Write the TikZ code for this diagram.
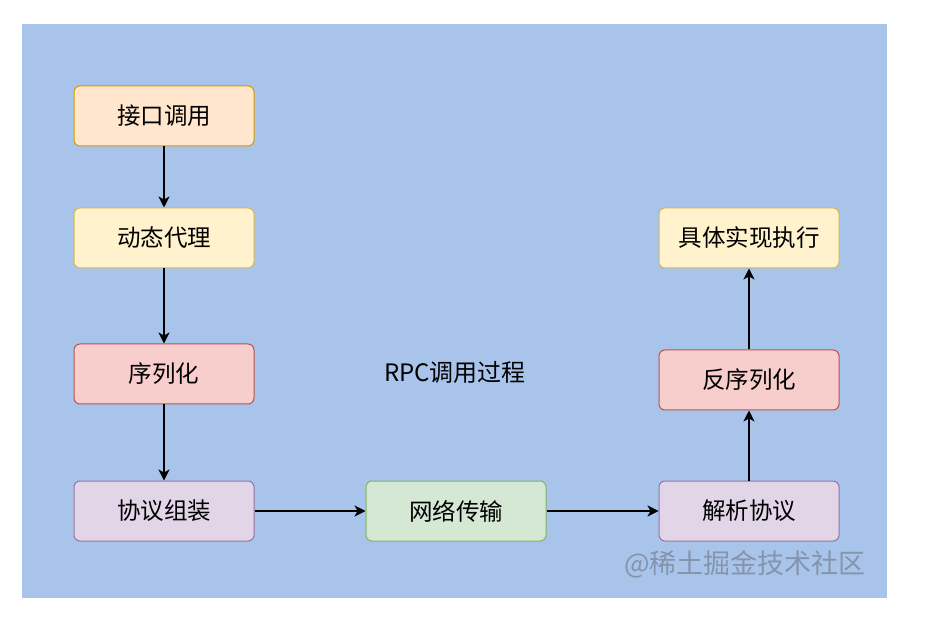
\documentclass[tikz,border=0pt]{standalone}
\usepackage{fontspec}
\setmainfont{Noto Sans CJK SC}
\usepackage{tikz}
\usetikzlibrary{arrows.meta,calc,positioning}
\definecolor{bgblue}{HTML}{A9C4EB}
\definecolor{orangefill}{HTML}{FFE6CC}
\definecolor{orangeline}{HTML}{D79B00}
\definecolor{yellowfill}{HTML}{FFF2CC}
\definecolor{yellowline}{HTML}{D6B656}
\definecolor{redfill}{HTML}{F8CECC}
\definecolor{redline}{HTML}{B85450}
\definecolor{purplefill}{HTML}{E1D5E7}
\definecolor{purpleline}{HTML}{9673A6}
\definecolor{greenfill}{HTML}{D5E8D4}
\definecolor{greenline}{HTML}{82B366}
\definecolor{markgray}{HTML}{8594AB}

\begin{document}
\begin{tikzpicture}[x=1pt,y=-1pt,
    stepbox/.style={draw, rounded corners=6pt, line width=1pt,
      minimum width=180pt, minimum height=60pt, inner sep=0pt,
      font=\fontsize{23.5}{23.5}\selectfont},
    flow/.style={-{Stealth[length=11pt,width=11pt,inset=3pt]}, line width=1.2pt, black}]
            % Canvas and background
            \useasboundingbox (0,0) rectangle (946,628);
            \fill[white] (0,0) rectangle (946,628);
            \fill[bgblue] (22,24) rectangle (887,598);
            % Client side
            \node[stepbox, fill=orangefill, draw=orangeline] (call) at (164,116) {接口调用};
            \node[stepbox, fill=yellowfill, draw=yellowline] (proxy) at (164,238) {动态代理};
            \node[stepbox, fill=redfill, draw=redline] (ser) at (164,374) {序列化};
            \node[stepbox, fill=purplefill, draw=purpleline] (pack) at (164,511) {协议组装};
            % Network
            \node[stepbox, fill=greenfill, draw=greenline] (net) at (456,511) {网络传输};
            % Server side
            \node[stepbox, fill=purplefill, draw=purpleline] (parse) at (749,511) {解析协议};
            \node[stepbox, fill=redfill, draw=redline] (deser) at (749,380) {反序列化};
            \node[stepbox, fill=yellowfill, draw=yellowline] (exec) at (749,238) {具体实现执行};
            % Title
            \node[font=\fontsize{24}{24}\selectfont] (title) at (455,372) {RPC调用过程};
            % Connect the steps
            \draw[flow] (call) -- (proxy);
            \draw[flow] (proxy) -- (ser);
            \draw[flow] (ser) -- (pack);
            \draw[flow] (pack) -- (net);
            \draw[flow] (net) -- (parse);
            \draw[flow] (parse) -- (deser);
            \draw[flow] (deser) -- (exec);
            % Watermark
            \node[text=markgray, font=\fontsize{27}{27}\selectfont] (mark) at (745,564) {@稀土掘金技术社区};
          \end{tikzpicture}
\end{document}
